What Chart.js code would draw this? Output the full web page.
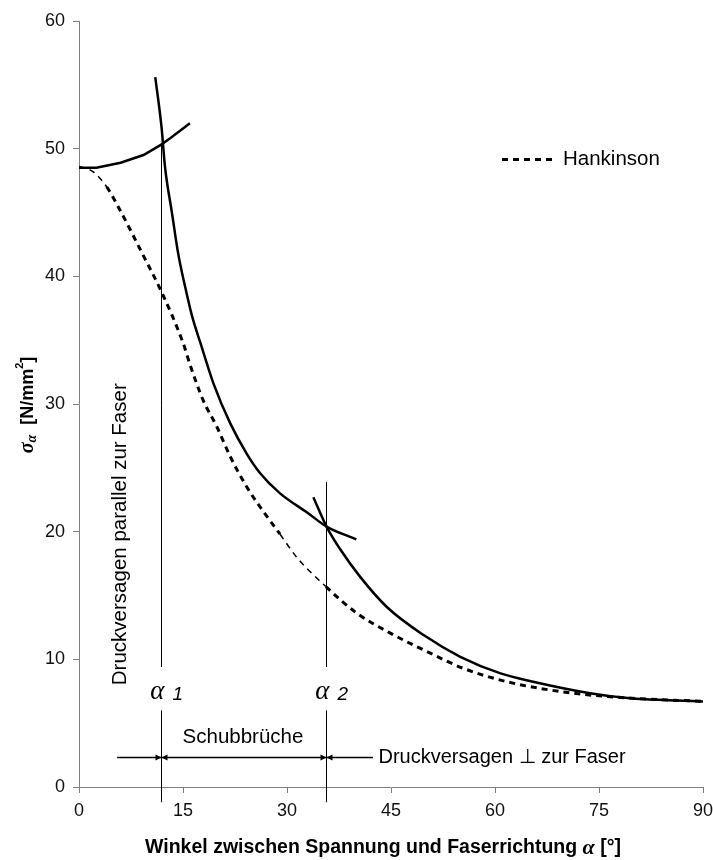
<!DOCTYPE html>
<html>
<head>
<meta charset="utf-8">
<script src="https://cdn.jsdelivr.net/npm/chart.js@4.4.1/dist/chart.umd.min.js"></script>
<style>
  html, body { margin: 0; padding: 0; background: #fff; }
  #wrap { width: 713px; height: 860px; }
</style>
</head>
<body>
<div id="wrap"><canvas id="sigmaChart" width="713" height="860"></canvas></div>
<script>
// angle in degrees, stress in N/mm2
var parallelX = [0, 2.5, 6, 9.3, 11.8, 13.1, 16.0];
var parallelY = [48.5, 48.5, 48.9, 49.5, 50.3, 50.8, 52.0];

var shearX = [11.0, 11.9, 12.4, 13.4, 14.3, 15.3, 16.3, 17.5, 19.4, 21.8, 24.2, 26.1, 29.0, 32.9, 35.7, 40.0];
var shearY = [55.6, 51.7, 48.6, 45.0, 41.8, 39.2, 36.9, 34.8, 31.6, 28.5, 26.1, 24.6, 23.0, 21.5, 20.4, 19.4];

var perpX = [33.8, 35.7, 37.7, 40.5, 44.4, 49.7, 55.0, 60.8, 65.5, 73.7, 79.5, 85.0, 90.0];
var perpY = [22.7, 20.4, 18.6, 16.5, 14.1, 11.9, 10.2, 8.9, 8.25, 7.35, 6.95, 6.8, 6.7];

var hankX = [0, 2, 4, 5.9, 9.3, 11.8, 15.0, 16.0, 17.9, 19.9, 21.8, 24.2, 27.1, 29.0, 31.4, 35.6, 40.1, 44.9, 50.6, 55.4, 61.7, 69.8, 77.1, 90];
var hankY = [48.6, 48.2, 47.0, 45.2, 41.6, 38.9, 34.8, 33.1, 30.3, 28.2, 25.9, 23.5, 21.2, 19.8, 18.0, 15.7, 13.6, 12.05, 10.5, 9.3, 8.25, 7.45, 7.05, 6.7];

var xTicks = [0, 15, 30, 45, 60, 75, 90];
var yTicks = [0, 10, 20, 30, 40, 50, 60];

// alpha1 / alpha2 limits and where their marker lines start
var alphaX = [11.8, 35.6];
var alphaTop = [50.3, 23.9];
var alphaNames = ['1', '2'];

function pts(xs, ys) {
  return xs.map(function (x, i) { return { x: x, y: ys[i] }; });
}

var SANS = '"Liberation Sans", Arial, sans-serif';
var SERIF = '"Liberation Serif", "Times New Roman", serif';
var NOTE = '20.5px ' + SANS;

// marker lines, arrows, labels and legend
var annot = {
  id: 'annot',
  afterDatasetsDraw: function (chart) {
    var c = chart.ctx, xs = chart.scales.x, ys = chart.scales.y;
    var px = function (v) { return xs.getPixelForValue(v); };
    var py = function (v) { return ys.getPixelForValue(v); };
    c.save();
    c.strokeStyle = '#000';
    c.fillStyle = '#000';
    c.lineWidth = 1;

    // vertical lines at alpha1, alpha2 (gap for the label)
    alphaX.forEach(function (a, i) {
      var x = Math.round(px(a)) + 0.5;
      c.beginPath();
      c.moveTo(x, py(alphaTop[i]));
      c.lineTo(x, py(9.4));
      c.moveTo(x, py(6.0));
      c.lineTo(x, py(-1.2));
      c.stroke();

      c.textBaseline = 'middle';
      c.textAlign = 'right';
      c.font = 'italic 27px ' + SERIF;
      c.fillText('\u03b1', x + 3, py(7.45));
      c.textAlign = 'left';
      c.font = 'italic 19px ' + SANS;
      c.fillText(alphaNames[i], x + 11, py(7.2));
    });

    // arrows
    var ay = Math.round(py(2.33)) + 0.5;
    var a1 = Math.round(px(alphaX[0])) + 0.5, a2 = Math.round(px(alphaX[1])) + 0.5;
    c.lineWidth = 1.5;
    c.beginPath();
    c.moveTo(px(5.5), ay); c.lineTo(a2, ay);
    c.moveTo(a2, ay); c.lineTo(px(42.4), ay);
    c.stroke();
    function head(x, dir) {
      c.beginPath();
      c.moveTo(x, ay);
      c.lineTo(x - dir * 6, ay - 3);
      c.lineTo(x - dir * 6, ay + 3);
      c.closePath();
      c.fill();
    }
    head(a1, 1); head(a1, -1); head(a2, 1); head(a2, -1);

    c.textBaseline = 'middle';
    c.font = NOTE;
    c.textAlign = 'center';
    c.fillText('Schubbr\u00fcche', px(23.65), py(3.9));
    c.textAlign = 'left';
    c.font = '20px ' + SANS;
    c.fillText('Druckversagen \u22a5 zur Faser', px(43.2), ay);
    c.font = NOTE;

    c.save();
    c.translate(px(5.9), py(19.8));
    c.rotate(-Math.PI / 2);
    c.textAlign = 'center';
    c.fillText('Druckversagen parallel zur Faser', 0, 0);
    c.restore();

    // legend
    var ly = Math.round(py(49.2)) + 0.5;
    c.lineWidth = 3;
    c.setLineDash([6, 5]);
    c.beginPath();
    c.moveTo(502, ly); c.lineTo(557, ly);
    c.stroke();
    c.setLineDash([]);
    c.textAlign = 'left';
    c.fillText('Hankinson', 563, ly);
    c.restore();
  },
  afterDraw: function (chart) {
    var c = chart.ctx;
    c.save();
    c.fillStyle = '#000';
    c.textBaseline = 'middle';

    // x title with italic alpha
    var parts = [
      ['bold 19.5px ' + SANS, 'Winkel zwischen Spannung und Faserrichtung '],
      ['italic bold 22px ' + SERIF, '\u03b1'],
      ['bold 19.5px ' + SANS, ' [\u00b0]']
    ];
    var w = 0;
    parts.forEach(function (p) { c.font = p[0]; w += c.measureText(p[1]).width; });
    var x = 383 - w / 2;
    parts.forEach(function (p) {
      c.font = p[0];
      c.textAlign = 'left';
      c.fillText(p[1], x, 848);
      x += c.measureText(p[1]).width;
    });

    // y title: sigma_alpha [N/mm^2]
    c.translate(28, 405);
    c.rotate(-Math.PI / 2);
    var segs = [
      ['italic bold 20px ' + SERIF, '\u03c3', 0],
      ['italic bold 14px ' + SERIF, '\u03b1', 4],
      ['bold 18px ' + SANS, '  [N/mm', 0],
      ['bold 11px ' + SANS, '2', -8],
      ['bold 18px ' + SANS, ']', 0]
    ];
    w = 0;
    segs.forEach(function (s) { c.font = s[0]; w += c.measureText(s[1]).width; });
    x = -w / 2;
    segs.forEach(function (s) {
      c.font = s[0];
      c.textAlign = 'left';
      c.fillText(s[1], x, s[2]);
      x += c.measureText(s[1]).width;
    });
    c.restore();
  }
};

var ctx = document.getElementById('sigmaChart').getContext('2d');
var sigmaChart = new Chart(ctx, {
  type: 'line',
  data: {
    datasets: [
      { label: 'parallel', data: pts(parallelX, parallelY), borderColor: '#000', borderWidth: 2.5 },
      { label: 'Schub', data: pts(shearX, shearY), borderColor: '#000', borderWidth: 2.5, cubicInterpolationMode: 'monotone' },
      { label: 'senkrecht', data: pts(perpX, perpY), borderColor: '#000', borderWidth: 2.5, cubicInterpolationMode: 'monotone' },
      {
        label: 'Hankinson', data: pts(hankX, hankY), borderColor: '#000', borderWidth: 3,
        borderDash: [6, 5], cubicInterpolationMode: 'monotone',
        segment: {
          borderWidth: function (s) {
            var x0 = s.p0.parsed.x;
            return (x0 < 3.9 || (x0 > 28 && x0 < 35)) ? 1.5 : 3;
          }
        }
      }
    ]
  },
  options: {
    responsive: false,
    animation: false,
    events: [],
    layout: { padding: { left: 0, right: 0, top: 21, bottom: 0 } },
    elements: { point: { radius: 0 }, line: { tension: 0, fill: false } },
    plugins: { legend: { display: false }, tooltip: { enabled: false } },
    scales: {
      x: {
        type: 'linear', min: 0, max: 90,
        afterBuildTicks: function (s) { s.ticks = xTicks.map(function (v) { return { value: v }; }); },
        afterFit: function (s) { s.height = 73; s.paddingRight = 10; },
        grid: { drawOnChartArea: false, drawTicks: true, tickLength: 6, color: '#808080' },
        border: { color: '#808080', width: 1 },
        ticks: { color: '#111', padding: 7, font: { family: SANS, size: 18 } }
      },
      y: {
        type: 'linear', min: 0, max: 60,
        afterBuildTicks: function (s) { s.ticks = yTicks.map(function (v) { return { value: v }; }); },
        afterFit: function (s) { s.width = 79; },
        grid: { drawOnChartArea: false, drawTicks: true, tickLength: 6, color: '#808080' },
        border: { color: '#808080', width: 1 },
        ticks: { color: '#111', padding: 8, font: { family: SANS, size: 18 } }
      }
    }
  },
  plugins: [annot]
});
</script>
</body>
</html>
